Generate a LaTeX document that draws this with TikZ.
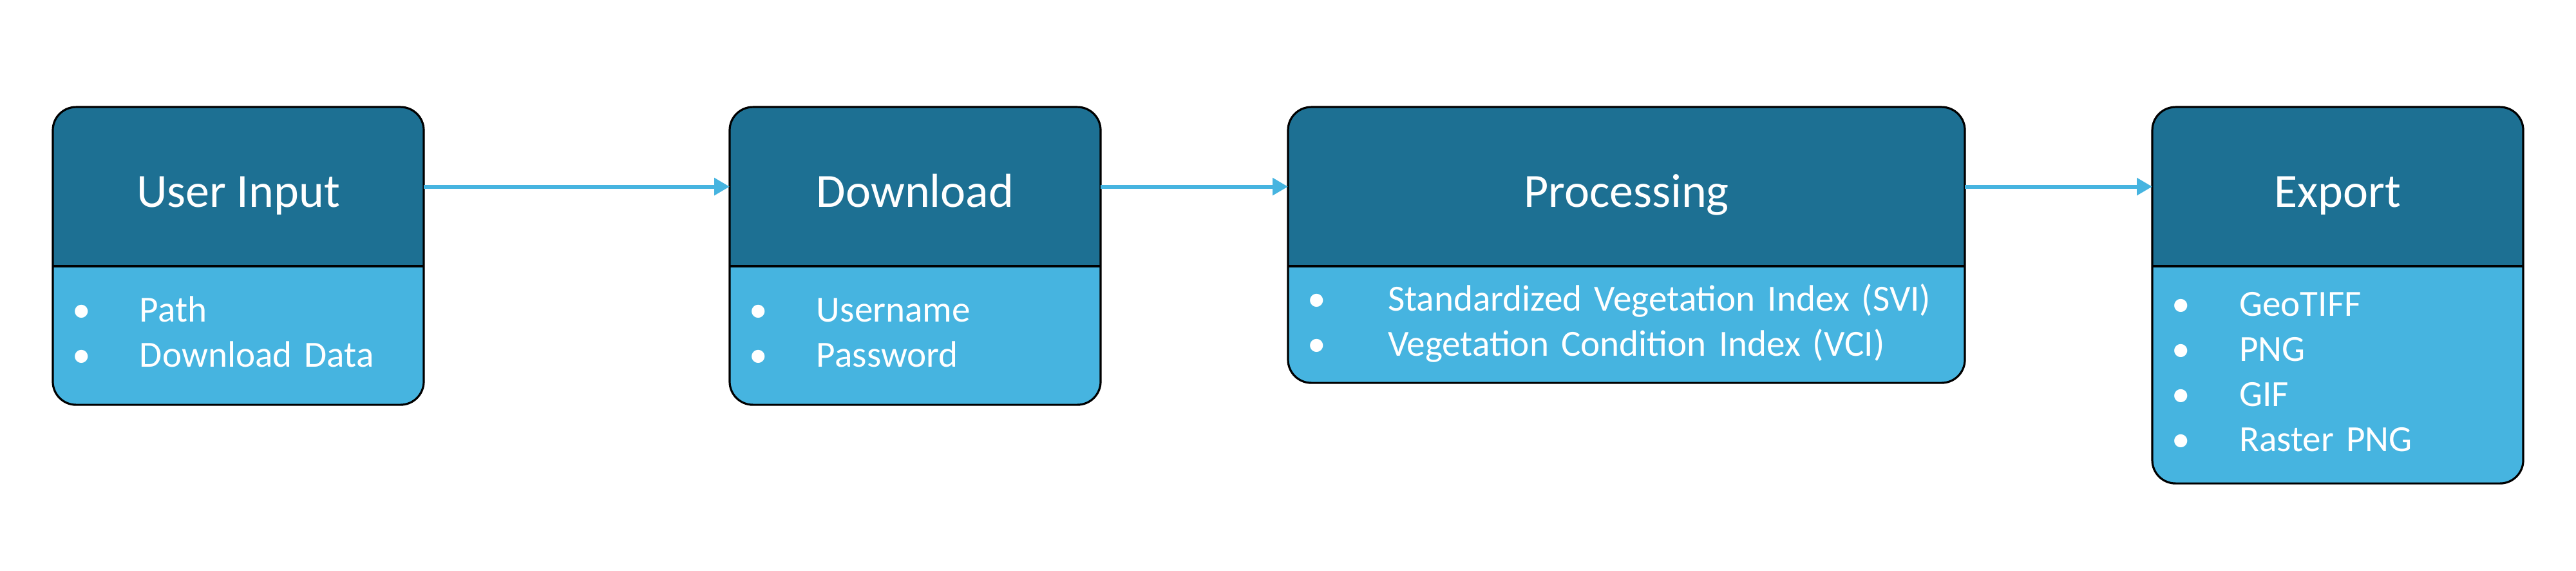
\documentclass[tikz,border=0pt]{standalone}
\usepackage{fontspec}
\setmainfont{Carlito}
\usetikzlibrary{positioning, arrows.meta, backgrounds}
\definecolor{headblue}{RGB}{29,112,147}
\definecolor{itemblue}{RGB}{70,180,224}
\definecolor{arrowblue}{RGB}{70,180,224}

\begin{document}
\begin{tikzpicture}[
    hdr/.style={minimum width=#1, minimum height=61.75pt, inner sep=0pt, outer sep=0pt,
      text height=16.2pt, text depth=0pt, text=white, font=\fontsize{18.5}{22}\selectfont},
    hdr/.default=144pt,
    lst/.style={text width=#1, inner xsep=7.5pt, inner ysep=0pt, outer sep=0pt,
      text=white, font=\fontsize{14.3}{17.5}\selectfont},
    lst/.default=129pt,
    stagebox/.style={draw=black, line width=0.8pt, fill=itemblue, rounded corners=9pt},
    flow/.style={draw=arrowblue, line width=1.5pt, -{Triangle[length=6pt, width=6.5pt]}}]
  \useasboundingbox (0,0) rectangle (1000pt,-221.5pt);

  \node[hdr] (input) at (92.5pt,-72.4pt) {User Input};
  \node[hdr, right=118.75pt of input] (download) {Download};
  \node[hdr=262.75pt, right=72.75pt of download] (processing) {Processing};
  \node[hdr, right=72.75pt of processing] (export) {Export};

  \node[lst, minimum height=53.75pt, below=0pt of input] (input list)
    {\begin{tabular}{@{}p{26.25pt}@{}l@{}}
      \textbullet & Path\\
      \textbullet & Download Data
    \end{tabular}};
  \node[lst, minimum height=53.75pt, below=0pt of download] (download list)
    {\begin{tabular}{@{}p{26.25pt}@{}l@{}}
      \textbullet & Username\\
      \textbullet & Password
    \end{tabular}};
  \node[lst=247.75pt, minimum height=45.25pt, below=0pt of processing] (processing list)
    {\begin{tabular}{@{}p{31.25pt}@{}l@{}}
      \textbullet & Standardized Vegetation Index (SVI)\\
      \textbullet & Vegetation Condition Index (VCI)
    \end{tabular}};
  \node[lst, minimum height=84.25pt, below=0pt of export] (export list)
    {\begin{tabular}{@{}p{26.25pt}@{}l@{}}
      \textbullet & GeoTIFF\\
      \textbullet & PNG\\
      \textbullet & GIF\\
      \textbullet & Raster PNG
    \end{tabular}};

  % boxes behind the text
  \begin{scope}[on background layer]
    \foreach \h in {input, download, processing, export} {
      \path[stagebox, path picture={\fill[headblue, sharp corners] (path picture bounding box.north west) rectangle (\h.south east);}]
        (\h.north west) rectangle (\h\space list.south east);
      \draw[line width=0.8pt] (\h.south west) -- (\h.south east);
    }
  \end{scope}

  \draw[flow] (input) -- (download);
  \draw[flow] (download) -- (processing);
  \draw[flow] (processing) -- (export);
\end{tikzpicture}
\end{document}
